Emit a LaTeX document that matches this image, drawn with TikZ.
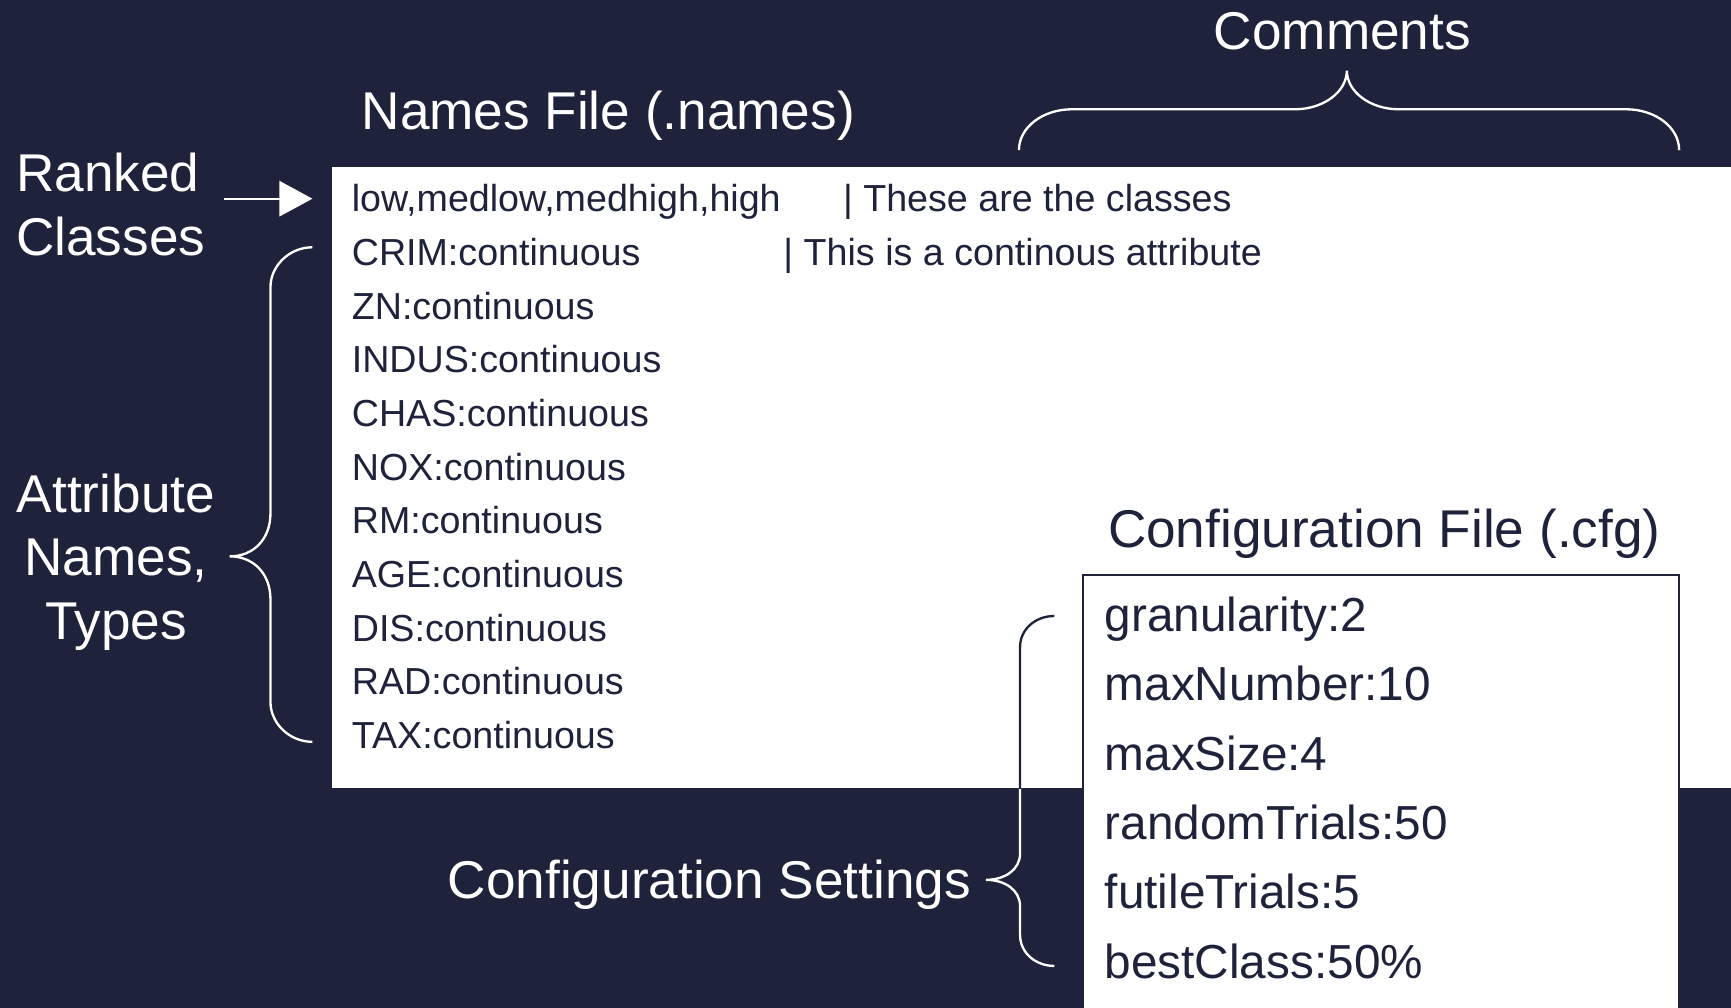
\documentclass[tikz,border=0pt]{standalone}
\usepackage{fontspec}
\setmainfont{Liberation Sans}
\usetikzlibrary{arrows.meta}
\definecolor{navy}{RGB}{30,34,59}
\tikzstyle{title}=[text=white,inner sep=0pt,font=\fontsize{13.7}{16.4}\selectfont]
\tikzstyle{nline}=[text=navy,inner sep=0pt,anchor=base west,font=\fontsize{9.7}{11.6}\selectfont]
\tikzstyle{cline}=[text=navy,inner sep=0pt,anchor=base west,font=\fontsize{12.3}{14.8}\selectfont]
\tikzstyle{brace}=[white,line width=0.6pt]
\newcommand{\cfgbrace}{(9.55,3.55) .. controls (9.38,3.55) and (9.24,3.43) .. (9.24,3.27) -- (9.24,1.40)
  .. controls (9.24,1.25) and (9.10,1.16) .. (8.93,1.16)
  .. controls (9.10,1.16) and (9.24,1.07) .. (9.24,0.92) -- (9.24,0.66)
  .. controls (9.24,0.50) and (9.38,0.38) .. (9.55,0.38)}
\begin{document}
\begin{tikzpicture}
\fill[navy] (0,0) rectangle (15.68,9.13);
\useasboundingbox (0,0) rectangle (15.68,9.13);
% boxes
\fill[white] (3.01,1.99) rectangle (15.68,7.62);
\fill[white] (9.81,0) rectangle (15.21,3.92);
\draw[navy, line width=0.5pt] (9.81,0) -- (9.81,3.92) -- (15.21,3.92) -- (15.21,0);
% titles
\node[title, anchor=base] (namestitle) at (5.51,7.96) {Names File (.names)};
\node[title, anchor=base] (comments) at (12.16,8.68) {Comments};
\node[title, align=left, anchor=west] (ranked) at (0.14,7.28) {Ranked\\Classes};
\node[title, align=center] (attrib) at (1.05,4.04) {Attribute\\Names,\\Types};
\node[title, anchor=base west] (settings) at (4.05,0.99) {Configuration Settings};
\node[title, text=navy, anchor=base west] (cfgtitle) at (10.03,4.17) {Configuration File (.cfg)};
% names file
\node[nline] (l1) at (3.18,7.21) {low,medlow,medhigh,high};
\node[nline] (l2) at (3.18,6.724) {CRIM:continuous};
\node[nline] (l3) at (3.18,6.238) {ZN:continuous};
\node[nline] (l4) at (3.18,5.752) {INDUS:continuous};
\node[nline] (l5) at (3.18,5.266) {CHAS:continuous};
\node[nline] (l6) at (3.18,4.78) {NOX:continuous};
\node[nline] (l7) at (3.18,4.294) {RM:continuous};
\node[nline] (l8) at (3.18,3.808) {AGE:continuous};
\node[nline] (l9) at (3.18,3.322) {DIS:continuous};
\node[nline] (l10) at (3.18,2.836) {RAD:continuous};
\node[nline] (l11) at (3.18,2.35) {TAX:continuous};
\node[nline] (c1) at (7.63,7.21) {| These are the classes};
\node[nline] (c2) at (7.09,6.724) {| This is a continous attribute};
% config file
\node[cline] (g1) at (10.0,3.41) {granularity:2};
\node[cline] (g2) at (10.0,2.782) {maxNumber:10};
\node[cline] (g3) at (10.0,2.154) {maxSize:4};
\node[cline] (g4) at (10.0,1.526) {randomTrials:50};
\node[cline] (g5) at (10.0,0.898) {futileTrials:5};
\node[cline] (g6) at (10.0,0.27) {bestClass:50\%};
% arrow
\coordinate (arrs) at (2.03,7.33);
\coordinate (arre) at (2.83,7.33);
\draw[white, line width=0.6pt, -{Triangle[length=0.3cm,width=0.32cm]}] (arrs) -- (arre);
% braces
\draw[brace] (2.83,6.89) .. controls (2.62,6.89) and (2.45,6.72) .. (2.45,6.53) -- (2.45,4.48)
  .. controls (2.45,4.25) and (2.30,4.09) .. (2.08,4.09)
  .. controls (2.30,4.09) and (2.45,3.93) .. (2.45,3.70) -- (2.45,2.77)
  .. controls (2.45,2.58) and (2.62,2.41) .. (2.83,2.41);
\draw[brace] \cfgbrace;
\begin{scope}
\clip (3.01,1.99) rectangle (15.68,7.62);
\draw[brace, navy] \cfgbrace;
\end{scope}
\draw[brace] (9.23,7.77) .. controls (9.23,7.98) and (9.45,8.14) .. (9.71,8.14) -- (11.73,8.14)
  .. controls (11.99,8.14) and (12.20,8.30) .. (12.20,8.49)
  .. controls (12.20,8.30) and (12.41,8.14) .. (12.67,8.14) -- (14.73,8.14)
  .. controls (14.99,8.14) and (15.21,7.98) .. (15.21,7.77);
\end{tikzpicture}
\end{document}
